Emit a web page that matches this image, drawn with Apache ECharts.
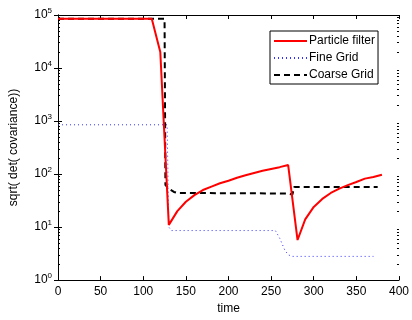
<!DOCTYPE html>
<html>
<head>
<meta charset="utf-8">
<script src="https://cdn.jsdelivr.net/npm/echarts@6/dist/echarts.min.js"></script>
<style>
  html, body { margin: 0; padding: 0; background: #fff; }
  #chart { width: 412px; height: 320px; }
</style>
</head>
<body>
<div id="chart"></div>
<script>
// particle filter
var pfTime  = [0, 10, 20, 30, 40, 50, 60, 70, 80, 90, 100, 110, 120, 130, 140, 150, 160, 170, 180, 190, 200, 210, 220, 230, 240, 250, 260, 270, 281, 290, 300, 310, 320, 330, 340, 350, 360, 370, 380];
var pfValue = [85000, 85000, 85000, 85000, 85000, 85000, 85000, 85000, 85000, 85000, 85000, 85000, 20000, 11, 20, 30, 40, 50, 58, 67, 75, 85, 95, 105, 115, 125, 135, 148, 5.7, 14, 24, 34, 44, 53, 62, 71, 82, 88, 97];
// fine grid
var fgTime  = [0, 128, 130, 133, 255, 260, 266, 270, 275, 370];
var fgValue = [850, 850, 10, 8.6, 8.6, 6.2, 3.7, 3.0, 2.8, 2.8];
// coarse grid
var cgTime  = [0, 125, 126, 128, 131, 136, 140, 270, 275, 277, 375];
var cgValue = [85000, 85000, 62, 60, 52, 46, 44, 43, 41, 57, 57];

var xTicks = [0, 50, 100, 150, 200, 250, 300, 350, 400];
var yTicks = [1, 10, 100, 1000, 10000, 100000];
var yMinor = [];
for (var k = 0; k < 5; k++) {
    for (var d = 2; d <= 9; d++) yMinor.push(d * Math.pow(10, k));
}

function pairs(xs, ys) {
    var out = [];
    for (var i = 0; i < xs.length; i++) out.push([xs[i], ys[i]]);
    return out;
}

var chart = echarts.init(document.getElementById('chart'));
var font = 'Liberation Sans, Arial, sans-serif';

var xBase = {
    type: 'value', min: 0, max: 400, interval: 50,
    splitLine: { show: false },
    axisLine: { lineStyle: { color: '#000', width: 1 } },
    axisTick: { inside: true, length: 4, lineStyle: { color: '#000' } }
};
var yBase = {
    type: 'log', logBase: 10, min: 1, max: 100000,
    splitLine: { show: false },
    axisLine: { show: true, lineStyle: { color: '#000', width: 1 } },
    axisTick: { show: true, inside: true, length: 4, customValues: yTicks, lineStyle: { color: '#000' } }
};

var option = {
    backgroundColor: '#fff',
    animation: false,
    textStyle: { fontFamily: font },
    grid: { left: 56, right: 12, top: 15, bottom: 34 },
    legend: {
        left: 270, top: 31,
        orient: 'vertical',
        itemWidth: 33, itemHeight: 10, itemGap: 5,
        padding: [4, 3, 3, 3],
        borderColor: '#000', borderWidth: 1,
        backgroundColor: '#fff',
        itemStyle: { opacity: 0 },
        textStyle: { fontSize: 12, color: '#000', padding: [0, 0, 0, -3] },
        data: ['Particle filter', 'Fine Grid', 'Coarse Grid']
    },
    xAxis: [
        Object.assign({}, xBase, {
            position: 'bottom',
            name: 'time', nameLocation: 'middle', nameGap: 19,
            nameTextStyle: { fontSize: 12, color: '#000' },
            axisLabel: { fontSize: 12, color: '#000', margin: 6, customValues: xTicks }
        }),
        Object.assign({}, xBase, { position: 'top', axisLabel: { show: false } })
    ],
    yAxis: [
        Object.assign({}, yBase, {
            position: 'left',
            name: 'sqrt( det( covariance))', nameLocation: 'middle', nameGap: 38,
            nameTextStyle: { fontSize: 12, color: '#000' },
            axisLabel: {
                color: '#000', margin: 6, customValues: yTicks,
                formatter: function (v) {
                    return '{b|10}{s|' + Math.round(Math.log10(v)) + '}';
                },
                rich: {
                    b: { fontSize: 12, color: '#000', fontFamily: font },
                    s: { fontSize: 8, color: '#000', fontFamily: font, padding: [0, 0, 8, 0] }
                }
            }
        }),
        Object.assign({}, yBase, { position: 'right', axisLabel: { show: false } }),
        Object.assign({}, yBase, {
            position: 'left', axisLine: { show: false }, axisLabel: { show: false },
            axisTick: { show: true, inside: true, length: 2, customValues: yMinor, lineStyle: { color: '#000' } }
        }),
        Object.assign({}, yBase, {
            position: 'right', axisLine: { show: false }, axisLabel: { show: false },
            axisTick: { show: true, inside: true, length: 2, customValues: yMinor, lineStyle: { color: '#000' } }
        })
    ],
    series: [
        {
            name: 'Particle filter', type: 'line', symbol: 'none',
            data: pairs(pfTime, pfValue),
            itemStyle: { color: '#ff0000' },
            lineStyle: { color: '#ff0000', width: 2 }, z: 3
        },
        {
            name: 'Fine Grid', type: 'line', symbol: 'none',
            data: pairs(fgTime, fgValue),
            itemStyle: { color: '#3333ff' },
            lineStyle: { color: '#3333ff', width: 1, type: [1, 3] }, z: 1
        },
        {
            name: 'Coarse Grid', type: 'line', symbol: 'none',
            data: pairs(cgTime, cgValue),
            itemStyle: { color: '#000' },
            lineStyle: { color: '#000', width: 2, type: [6, 4] }, z: 2
        }
    ]
};
chart.setOption(option);
</script>
</body>
</html>
